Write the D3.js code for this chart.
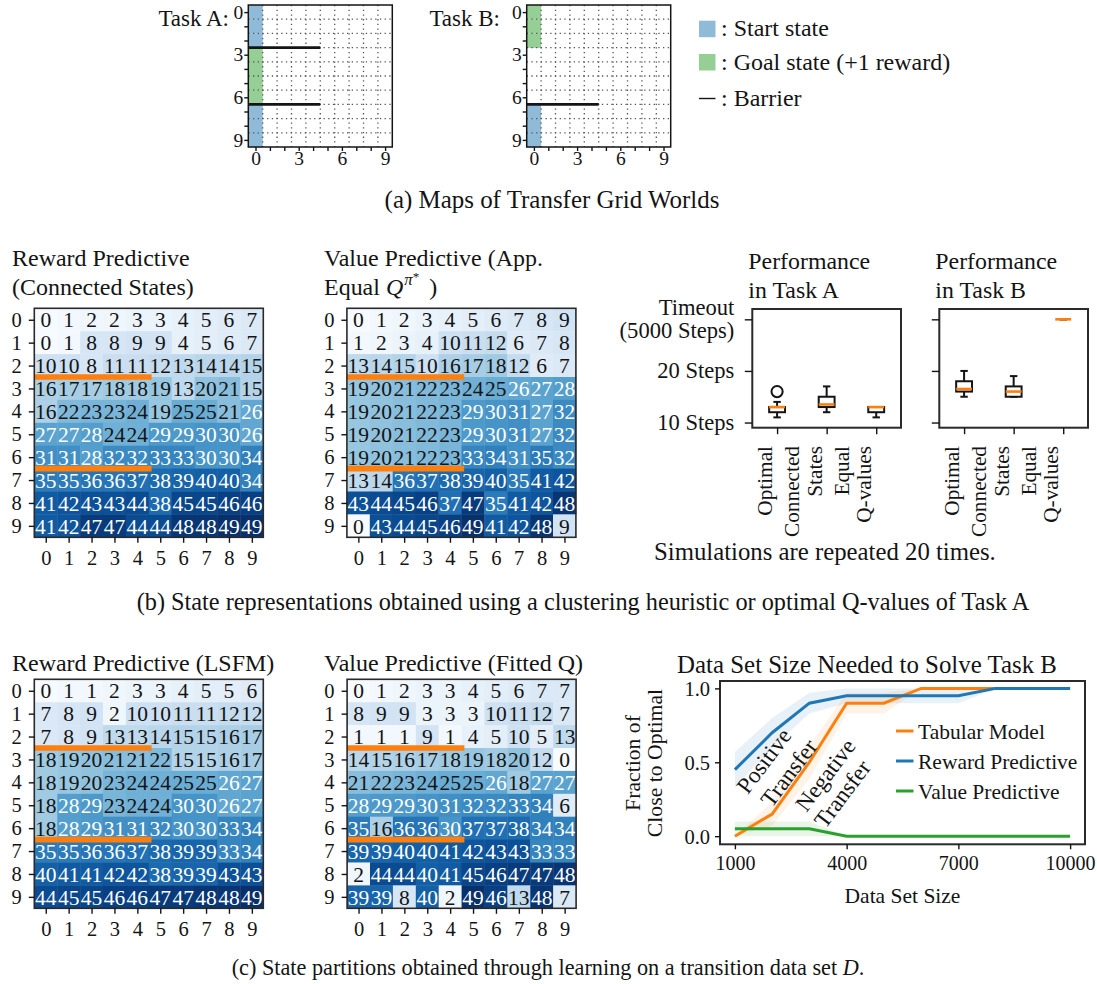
<!DOCTYPE html>
<html>
<head>
<meta charset="utf-8">
<script src="https://cdn.jsdelivr.net/npm/d3@7"></script>
<style>
  html, body { margin: 0; padding: 0; background: #fff; }
</style>
</head>
<body>
<svg id="fig" width="1097" height="984"></svg>
<script>
// ------------------------------------------------------------------
// Data
// ------------------------------------------------------------------
const gridTicks = d3.range(10);

// Grid-world maps (rows of column 0 that are start / goal states)
const taskAStartRows = [0, 1, 2, 7, 8, 9];
const taskAGoalRows = [3, 4, 5, 6];
const taskABarrierRows = [2.5, 6.5];
const taskBStartRows = [7, 8, 9];
const taskBGoalRows = [0, 1, 2];
const taskBBarrierRows = [6.5];
const barrierSpan = [-0.5, 4.5];

// Partition labels of the 10x10 grid (row-major)
const connectedStates = [
  [0, 1, 2, 2, 3, 3, 4, 5, 6, 7],
  [0, 1, 8, 8, 9, 9, 4, 5, 6, 7],
  [10, 10, 8, 11, 11, 12, 13, 14, 14, 15],
  [16, 17, 17, 18, 18, 19, 13, 20, 21, 15],
  [16, 22, 23, 23, 24, 19, 25, 25, 21, 26],
  [27, 27, 28, 24, 24, 29, 29, 30, 30, 26],
  [31, 31, 28, 32, 32, 33, 33, 30, 30, 34],
  [35, 35, 36, 36, 37, 38, 39, 40, 40, 34],
  [41, 42, 43, 43, 44, 38, 45, 45, 46, 46],
  [41, 42, 47, 47, 44, 44, 48, 48, 49, 49]
];
const equalQValues = [
  [0, 1, 2, 3, 4, 5, 6, 7, 8, 9],
  [1, 2, 3, 4, 10, 11, 12, 6, 7, 8],
  [13, 14, 15, 10, 16, 17, 18, 12, 6, 7],
  [19, 20, 21, 22, 23, 24, 25, 26, 27, 28],
  [19, 20, 21, 22, 23, 29, 30, 31, 27, 32],
  [19, 20, 21, 22, 23, 29, 30, 31, 27, 32],
  [19, 20, 21, 22, 23, 33, 34, 31, 35, 32],
  [13, 14, 36, 37, 38, 39, 40, 35, 41, 42],
  [43, 44, 45, 46, 37, 47, 35, 41, 42, 48],
  [0, 43, 44, 45, 46, 49, 41, 42, 48, 9]
];
const lsfmPartition = [
  [0, 1, 1, 2, 3, 3, 4, 5, 5, 6],
  [7, 8, 9, 2, 10, 10, 11, 11, 12, 12],
  [7, 8, 9, 13, 13, 14, 15, 15, 16, 17],
  [18, 19, 20, 21, 21, 22, 15, 15, 16, 17],
  [18, 19, 20, 23, 24, 24, 25, 25, 26, 27],
  [18, 28, 29, 23, 24, 24, 30, 30, 26, 27],
  [18, 28, 29, 31, 31, 32, 30, 30, 33, 34],
  [35, 35, 36, 36, 37, 38, 39, 39, 33, 34],
  [40, 41, 41, 42, 42, 38, 39, 39, 43, 43],
  [44, 45, 45, 46, 46, 47, 47, 48, 48, 49]
];
const fittedQPartition = [
  [0, 1, 2, 3, 3, 4, 5, 6, 7, 7],
  [8, 9, 9, 3, 3, 3, 10, 11, 12, 7],
  [1, 1, 1, 9, 1, 4, 5, 10, 5, 13],
  [14, 15, 16, 17, 18, 19, 18, 20, 12, 0],
  [21, 22, 23, 24, 25, 25, 26, 18, 27, 27],
  [28, 29, 29, 30, 31, 32, 32, 33, 34, 6],
  [35, 16, 36, 36, 30, 37, 37, 38, 34, 34],
  [39, 39, 40, 40, 41, 42, 43, 43, 33, 33],
  [2, 44, 44, 40, 41, 45, 46, 47, 47, 48],
  [39, 39, 8, 40, 2, 49, 46, 13, 48, 7]
];
const heatBarrierRows = [2.5, 6.5];

// Box plot statistics (steps to goal; 30 stands for the timeout)
const boxLabels = [["Optimal"], ["Connected", "States"], ["Equal", "Q-values"]];
const stepTicks = [10, 20, 30];
const stepTickLabels = [["10 Steps"], ["20 Steps"], ["Timeout", "(5000 Steps)"]];
const taskALow = [11, 12, 11];
const taskAQ1 = [12, 13, 12];
const taskAMedian = [13, 13.5, 13];
const taskAQ3 = [13, 15, 13];
const taskAHigh = [14, 17, 13];
const taskAFliers = [[16], [], []];
const taskBLow = [15, 15, 30];
const taskBQ1 = [16, 15, 30];
const taskBMedian = [16.5, 16, 30];
const taskBQ3 = [18, 17, 30];
const taskBHigh = [20, 19, 30];
const taskBFliers = [[], [], []];

// Data set size experiment
const dataSetSizes = [1000, 2000, 3000, 4000, 5000, 6000, 7000, 8000, 9000, 10000];
const sizeTicks = [1000, 4000, 7000, 10000];
const fractionTicks = [0, 0.5, 1.0];
const tabularMean = [0.0, 0.15, 0.5, 0.9, 0.9, 1.0, 1.0, 1.0, 1.0, 1.0];
const tabularLow  = [0.0, 0.07, 0.39, 0.83, 0.83, 1.0, 1.0, 1.0, 1.0, 1.0];
const tabularHigh = [0.0, 0.23, 0.61, 0.97, 0.97, 1.0, 1.0, 1.0, 1.0, 1.0];
const rewardMean = [0.45, 0.7, 0.9, 0.95, 0.95, 0.95, 0.95, 1.0, 1.0, 1.0];
const rewardLow  = [0.33, 0.6, 0.83, 0.9, 0.9, 0.9, 0.9, 1.0, 1.0, 1.0];
const rewardHigh = [0.57, 0.8, 0.97, 1.0, 1.0, 1.0, 1.0, 1.0, 1.0, 1.0];
const valueMean = [0.05, 0.05, 0.05, 0.0, 0.0, 0.0, 0.0, 0.0, 0.0, 0.0];
const valueLow  = [0.0, 0.0, 0.0, 0.0, 0.0, 0.0, 0.0, 0.0, 0.0, 0.0];
const valueHigh = [0.1, 0.1, 0.1, 0.0, 0.0, 0.0, 0.0, 0.0, 0.0, 0.0];
const seriesNames = ["Tabular Model", "Reward Predictive", "Value Predictive"];

// ------------------------------------------------------------------
// Styles
// ------------------------------------------------------------------
const FONT = "Liberation Serif";
const INK = "#141414";
const ORANGE = "#ff7f0e", BLUE = "#1f77b4", GREEN = "#2ca02c";
const START_FILL = "#8fbbd9", GOAL_FILL = "#96cf96";

const svg = d3.select("#fig");
svg.append("rect").attr("width", 1097).attr("height", 984).attr("fill", "#fff");
const defs = svg.append("defs");

function setFont(sel) {
  return sel.attr("font-family", FONT).style("font-family", `"${FONT}"`);
}

// Font sizes are given in Computer Modern pixels and converted to the
// serif face in use through the advance widths of sample strings.
function measure(str, size) {
  const t = setFont(svg.append("text")).style("font-size", size + "px").text(str);
  const w = t.node().getComputedTextLength();
  t.remove();
  return w;
}
const kText = 549.2 / measure("Performance", 100);
const kDigit = 500 / measure("0123456789", 100);
const fs = cm => cm * kText;
const fd = cm => cm * kDigit;

function fitWidth(sel, target) {
  const w = sel.node().getComputedTextLength();
  const cur = parseFloat(sel.style("font-size"));
  sel.style("font-size", (cur * target / w) + "px");
  return sel;
}

function styleAxis(g, size) {
  g.attr("font-size", null);
  setFont(g);
  g.select("path.domain").remove();
  g.selectAll(".tick line").attr("stroke", INK).attr("stroke-width", 1.4);
  setFont(g.selectAll(".tick text")).attr("fill", INK).style("font-size", size + "px");
}

function addText(g, x, y, str, size, anchor) {
  return setFont(g.append("text")).attr("x", x).attr("y", y).attr("fill", INK)
    .style("font-size", size + "px")
    .attr("text-anchor", anchor || "start").text(str);
}

function addRotated(g, x, y, angle, str, size, anchor, dy) {
  return setFont(g.append("text")).attr("transform", `translate(${x},${y}) rotate(${angle})`)
    .attr("text-anchor", anchor).attr("dy", dy || 0).attr("fill", INK)
    .style("font-size", size + "px").text(str);
}

// ------------------------------------------------------------------
// (a) Grid-world maps
// ------------------------------------------------------------------
function drawMap(cfg) {
  const g = svg.append("g");
  const x = d3.scaleLinear().domain([-0.5, 9.5]).range([cfg.left, cfg.left + 144]);
  const y = d3.scaleLinear().domain([-0.5, 9.5]).range([cfg.top, cfg.top + 142]);
  const cw = x(0.5) - x(-0.5), ch = y(0.5) - y(-0.5);

  g.selectAll("rect.start").data(cfg.start).join("rect")
    .attr("x", x(-0.5)).attr("y", r => y(r - 0.5)).attr("width", cw).attr("height", ch + 0.3)
    .attr("fill", START_FILL);
  g.selectAll("rect.goal").data(cfg.goal).join("rect")
    .attr("x", x(-0.5)).attr("y", r => y(r - 0.5)).attr("width", cw).attr("height", ch + 0.3)
    .attr("fill", GOAL_FILL);

  const bounds = d3.range(0.5, 9, 1);
  g.selectAll("line.gv").data(bounds).join("line")
    .attr("x1", d => x(d)).attr("x2", d => x(d)).attr("y1", y(-0.5)).attr("y2", y(9.5))
    .attr("stroke", "#555").attr("stroke-width", 1.3).attr("stroke-dasharray", "1.3,3.4");
  g.selectAll("line.gh").data(bounds).join("line")
    .attr("y1", d => y(d)).attr("y2", d => y(d)).attr("x1", x(-0.5)).attr("x2", x(9.5))
    .attr("stroke", "#555").attr("stroke-width", 1.3).attr("stroke-dasharray", "1.3,3.4");

  g.selectAll("line.barrier").data(cfg.barriers).join("line")
    .attr("x1", x(barrierSpan[0])).attr("x2", x(barrierSpan[1]))
    .attr("y1", d => y(d)).attr("y2", d => y(d))
    .attr("stroke", INK).attr("stroke-width", 2.6);

  g.append("rect").attr("x", x(-0.5)).attr("y", y(-0.5))
    .attr("width", x(9.5) - x(-0.5)).attr("height", y(9.5) - y(-0.5))
    .attr("fill", "none").attr("stroke", INK).attr("stroke-width", 1.5);

  const fmt = d => (d % 3 === 0 ? d : "");
  const ay = g.append("g").attr("transform", `translate(${x(-0.5)},0)`)
    .call(d3.axisLeft(y).tickValues(gridTicks).tickFormat(fmt).tickSize(4).tickPadding(1));
  styleAxis(ay, fd(19.5));
  const ax = g.append("g").attr("transform", `translate(0,${y(9.5)})`)
    .call(d3.axisBottom(x).tickValues(gridTicks).tickFormat(fmt).tickSize(4).tickPadding(0));
  styleAxis(ax, fd(19.5));

  addText(g, cfg.labelX, 26, cfg.label, fs(21.4), "end");
}

drawMap({ label: "Task A:", labelX: 229, left: 248.3, top: 5,
  start: taskAStartRows, goal: taskAGoalRows, barriers: taskABarrierRows });
drawMap({ label: "Task B:", labelX: 500, left: 526.7, top: 5,
  start: taskBStartRows, goal: taskBGoalRows, barriers: taskBBarrierRows });

// Map legend
{
  const g = svg.append("g");
  const items = [
    { kind: "box", fill: START_FILL, text: ":  Start state", cy: 28.7 },
    { kind: "box", fill: GOAL_FILL, text: ":  Goal state (+1 reward)", cy: 62 },
    { kind: "line", text: ":  Barrier", cy: 98.5 }
  ];
  items.forEach(it => {
    if (it.kind === "box") {
      g.append("rect").attr("x", 699).attr("y", it.cy - 8).attr("width", 16.5).attr("height", 16.5)
        .attr("fill", it.fill);
    } else {
      g.append("line").attr("x1", 699).attr("x2", 715.5).attr("y1", it.cy).attr("y2", it.cy)
        .attr("stroke", INK).attr("stroke-width", 1.4);
    }
    addText(g, 721, it.cy + 7.5, it.text, fs(22.3));
  });
}

fitWidth(addText(svg, 552, 208, "(a) Maps of Transfer Grid Worlds", 20, "middle"), 335);

// ------------------------------------------------------------------
// Heatmaps of state partitions
// ------------------------------------------------------------------
let clipCount = 0;
function drawHeatmap(cfg) {
  const g = svg.append("g");
  const size = 229;
  const x = d3.scaleLinear().domain([-0.5, 9.5]).range([cfg.left, cfg.left + size]);
  const y = d3.scaleLinear().domain([-0.5, 9.5]).range([cfg.top, cfg.top + size]);
  const allValues = cfg.matrix.flat();
  const color = d3.scaleSequential(d3.interpolateBlues).domain(d3.extent(allValues));
  const cells = cfg.matrix.flatMap((row, r) => row.map((v, c) => ({ r, c, v })));
  const cw = x(0.5) - x(-0.5);

  g.selectAll("rect.cell").data(cells).join("rect")
    .attr("x", d => x(d.c - 0.5)).attr("y", d => y(d.r - 0.5))
    .attr("width", cw + 0.4).attr("height", cw + 0.4)
    .attr("fill", d => color(d.v));

  setFont(g.selectAll("text.val").data(cells).join("text"))
    .attr("x", d => x(d.c)).attr("y", d => y(d.r)).attr("dy", "0.36em")
    .attr("text-anchor", "middle")
    .style("font-size", fd(21.5) + "px")
    .attr("fill", d => (d.v > 25 ? "#fff" : INK))
    .text(d => d.v);

  const clipId = "hclip" + (clipCount++);
  defs.append("clipPath").attr("id", clipId).append("rect")
    .attr("x", x(-0.5)).attr("y", y(-0.5)).attr("width", size).attr("height", size);
  g.append("g").attr("clip-path", `url(#${clipId})`)
    .selectAll("line").data(heatBarrierRows).join("line")
    .attr("x1", x(barrierSpan[0])).attr("x2", x(barrierSpan[1]))
    .attr("y1", d => y(d)).attr("y2", d => y(d))
    .attr("stroke", ORANGE).attr("stroke-width", 5.6).attr("stroke-linecap", "square");

  g.append("rect").attr("x", x(-0.5)).attr("y", y(-0.5)).attr("width", size).attr("height", size)
    .attr("fill", "none").attr("stroke", "#2a2a2a").attr("stroke-width", 1.6);

  const ay = g.append("g").attr("transform", `translate(${x(-0.5)},0)`)
    .call(d3.axisLeft(y).tickValues(gridTicks).tickSize(5.5).tickPadding(7));
  styleAxis(ay, fd(20.5));
  const ax = g.append("g").attr("transform", `translate(0,${y(9.5)})`)
    .call(d3.axisBottom(x).tickValues(gridTicks).tickSize(5.5).tickPadding(7.5));
  styleAxis(ax, fd(20.5));

  cfg.title(g);
}

const TITLE = fs(22.3);
drawHeatmap({
  matrix: connectedStates, left: 34.3, top: 308.3,
  title: g => {
    addText(g, 12, 266, "Reward Predictive", TITLE);
    addText(g, 12, 295, "(Connected States)", TITLE);
  }
});
drawHeatmap({
  matrix: equalQValues, left: 346.9, top: 308.3,
  title: g => {
    addText(g, 324, 266, "Value Predictive (App.", TITLE);
    const t = addText(g, 324, 295, "Equal ", TITLE);
    t.append("tspan").attr("font-style", "italic").text("Q");
    t.append("tspan").attr("font-style", "italic").attr("dx", 1).attr("dy", -10)
      .style("font-size", (TITLE * 0.7) + "px").text("π");
    t.append("tspan").attr("dy", -4).style("font-size", (TITLE * 0.55) + "px").text("*");
    t.append("tspan").attr("dx", 10).attr("dy", 14).text(")");
  }
});
drawHeatmap({
  matrix: lsfmPartition, left: 34.3, top: 679.3,
  title: g => addText(g, 12, 671, "Reward Predictive (LSFM)", TITLE)
});
drawHeatmap({
  matrix: fittedQPartition, left: 347.1, top: 679.3,
  title: g => addText(g, 324, 671, "Value Predictive (Fitted Q)", TITLE)
});

// ------------------------------------------------------------------
// Box plots of steps to goal
// ------------------------------------------------------------------
function drawBoxPanel(cfg) {
  const g = svg.append("g");
  const width = 148.7;
  const x = d3.scaleLinear().domain([0.5, 3.5]).range([cfg.left, cfg.left + width]);
  const y = d3.scaleLinear().domain([9, 32]).range([427.7, 309]);
  const boxes = boxLabels.map((lab, i) => ({
    pos: i + 1, low: cfg.low[i], q1: cfg.q1[i], med: cfg.median[i],
    q3: cfg.q3[i], high: cfg.high[i], fliers: cfg.fliers[i]
  }));
  const halfBox = 0.16, halfCap = 0.075;

  const b = g.selectAll("g.box").data(boxes).join("g");
  b.append("line").attr("x1", d => x(d.pos)).attr("x2", d => x(d.pos))
    .attr("y1", d => y(d.q3)).attr("y2", d => y(d.high)).attr("stroke", INK).attr("stroke-width", 2);
  b.append("line").attr("x1", d => x(d.pos)).attr("x2", d => x(d.pos))
    .attr("y1", d => y(d.q1)).attr("y2", d => y(d.low)).attr("stroke", INK).attr("stroke-width", 2);
  b.append("line").attr("x1", d => x(d.pos - halfCap)).attr("x2", d => x(d.pos + halfCap))
    .attr("y1", d => y(d.high)).attr("y2", d => y(d.high)).attr("stroke", INK).attr("stroke-width", 2);
  b.append("line").attr("x1", d => x(d.pos - halfCap)).attr("x2", d => x(d.pos + halfCap))
    .attr("y1", d => y(d.low)).attr("y2", d => y(d.low)).attr("stroke", INK).attr("stroke-width", 2);
  b.append("rect").attr("x", d => x(d.pos - halfBox)).attr("y", d => y(d.q3))
    .attr("width", d => x(d.pos + halfBox) - x(d.pos - halfBox))
    .attr("height", d => y(d.q1) - y(d.q3))
    .attr("fill", "#fff").attr("stroke", INK).attr("stroke-width", 2);
  b.append("line").attr("x1", d => x(d.pos - halfBox)).attr("x2", d => x(d.pos + halfBox))
    .attr("y1", d => y(d.med)).attr("y2", d => y(d.med)).attr("stroke", ORANGE).attr("stroke-width", 2.6);
  b.selectAll("circle").data(d => d.fliers.map(f => ({ pos: d.pos, v: f }))).join("circle")
    .attr("cx", d => x(d.pos)).attr("cy", d => y(d.v)).attr("r", 5.6)
    .attr("fill", "none").attr("stroke", INK).attr("stroke-width", 2);

  g.append("rect").attr("x", cfg.left).attr("y", 309).attr("width", width).attr("height", 427.7 - 309)
    .attr("fill", "none").attr("stroke", "#2a2a2a").attr("stroke-width", 2);

  const ay = g.append("g").attr("transform", `translate(${cfg.left},0)`)
    .call(d3.axisLeft(y).tickValues(stepTicks).tickFormat("").tickSize(7.5));
  styleAxis(ay, 20);
  if (cfg.showYLabels) {
    stepTicks.forEach((v, i) => {
      const lines = stepTickLabels[i];
      lines.forEach((ln, j) => {
        const off = (j - (lines.length - 1) / 2) * 23.5;
        addText(g, cfg.left - 18, y(v) + off + 7.3, ln, fs(21), "end");
      });
    });
  }

  const ax = g.append("g").attr("transform", `translate(0,427.7)`)
    .call(d3.axisBottom(x).tickValues([1, 2, 3]).tickFormat("").tickSize(6.5));
  styleAxis(ax, 20);
  boxLabels.forEach((lines, i) => {
    lines.forEach((ln, j) => {
      const bx = x(i + 1) - 5 - (lines.length - 1 - j) * 22.5;
      addRotated(g, bx, 446, -90, ln, fs(19.8), "end");
    });
  });

  addText(g, cfg.left - 4, 269, "Performance", fs(22.2));
  addText(g, cfg.left - 4, 298, cfg.titleLine2, fs(22.2));
}

drawBoxPanel({ left: 752.3, showYLabels: true, titleLine2: "in Task A",
  low: taskALow, q1: taskAQ1, median: taskAMedian, q3: taskAQ3, high: taskAHigh, fliers: taskAFliers });
drawBoxPanel({ left: 939.3, showYLabels: false, titleLine2: "in Task B",
  low: taskBLow, q1: taskBQ1, median: taskBMedian, q3: taskBQ3, high: taskBHigh, fliers: taskBFliers });

fitWidth(addText(svg, 654, 560, "Simulations are repeated 20 times.", 20), 342);
fitWidth(addText(svg, 583, 610,
  "(b) State representations obtained using a clustering heuristic or optimal Q-values of Task A",
  20, "middle"), 893);

// ------------------------------------------------------------------
// Data set size needed to solve Task B
// ------------------------------------------------------------------
{
  const g = svg.append("g");
  const L = 720, R = 1085, T = 681, B = 844.3;
  const x = d3.scaleLinear().domain([600, 10400]).range([L, R]);
  const y = d3.scaleLinear().domain([-0.055, 1.05]).range([B, T]);

  const series = [
    { name: seriesNames[0], color: ORANGE, mean: tabularMean, low: tabularLow, high: tabularHigh },
    { name: seriesNames[1], color: BLUE, mean: rewardMean, low: rewardLow, high: rewardHigh },
    { name: seriesNames[2], color: GREEN, mean: valueMean, low: valueLow, high: valueHigh }
  ];
  const area = d3.area().x(d => x(d.s)).y0(d => y(d.lo)).y1(d => y(d.hi));
  const line = d3.line().x(d => x(d.s)).y(d => y(d.m));

  series.forEach(s => {
    const pts = dataSetSizes.map((sz, i) => ({ s: sz, m: s.mean[i], lo: s.low[i], hi: s.high[i] }));
    g.append("path").attr("d", area(pts)).attr("fill", s.color).attr("fill-opacity", 0.1);
  });
  series.forEach(s => {
    const pts = dataSetSizes.map((sz, i) => ({ s: sz, m: s.mean[i] }));
    g.append("path").attr("d", line(pts)).attr("fill", "none")
      .attr("stroke", s.color).attr("stroke-width", 3);
  });

  g.append("rect").attr("x", L).attr("y", T).attr("width", R - L).attr("height", B - T)
    .attr("fill", "none").attr("stroke", "#2a2a2a").attr("stroke-width", 2);

  const ay = g.append("g").attr("transform", `translate(${L},0)`)
    .call(d3.axisLeft(y).tickValues(fractionTicks).tickFormat(d3.format(".1f")).tickSize(5).tickPadding(5));
  styleAxis(ay, fd(20.5));
  ay.selectAll(".tick text").attr("dy", "0.34em");
  const ax = g.append("g").attr("transform", `translate(0,${B})`)
    .call(d3.axisBottom(x).tickValues(sizeTicks).tickFormat(d3.format("d")).tickSize(5).tickPadding(7));
  styleAxis(ax, fd(20));

  addText(g, 902.5, 903, "Data Set Size", fs(20), "middle");
  addRotated(g, 640, 763, -90, "Fraction of", fs(20.2), "middle");
  addRotated(g, 662, 763, -90, "Close to Optimal", fs(20.2), "middle");
  fitWidth(addText(g, 867, 673, "Data Set Size Needed to Solve Task B", 20, "middle"), 380);

  // legend
  series.forEach((s, i) => {
    const cy = 731 + i * 30;
    g.append("line").attr("x1", 896).attr("x2", 913.5).attr("y1", cy).attr("y2", cy)
      .attr("stroke", s.color).attr("stroke-width", 3);
    addText(g, 918, cy + 7.5, s.name, fs(20));
  });

  // transfer annotations
  const notes = [
    { text: "Positive", cx: 764, cy: 761 },
    { text: "Transfer", cx: 789, cy: 773 },
    { text: "Negative", cx: 825.5, cy: 775 },
    { text: "Transfer", cx: 842.5, cy: 794 }
  ];
  notes.forEach(n => addRotated(g, n.cx, n.cy, -53, n.text, fs(21.5), "middle", "0.33em"));
}

{
  const t = addText(svg, 548, 975, "(c) State partitions obtained through learning on a transition data set ",
    20, "middle");
  t.append("tspan").attr("font-style", "italic").text("D");
  t.append("tspan").text(".");
  fitWidth(t, 633);
}
</script>
</body>
</html>
